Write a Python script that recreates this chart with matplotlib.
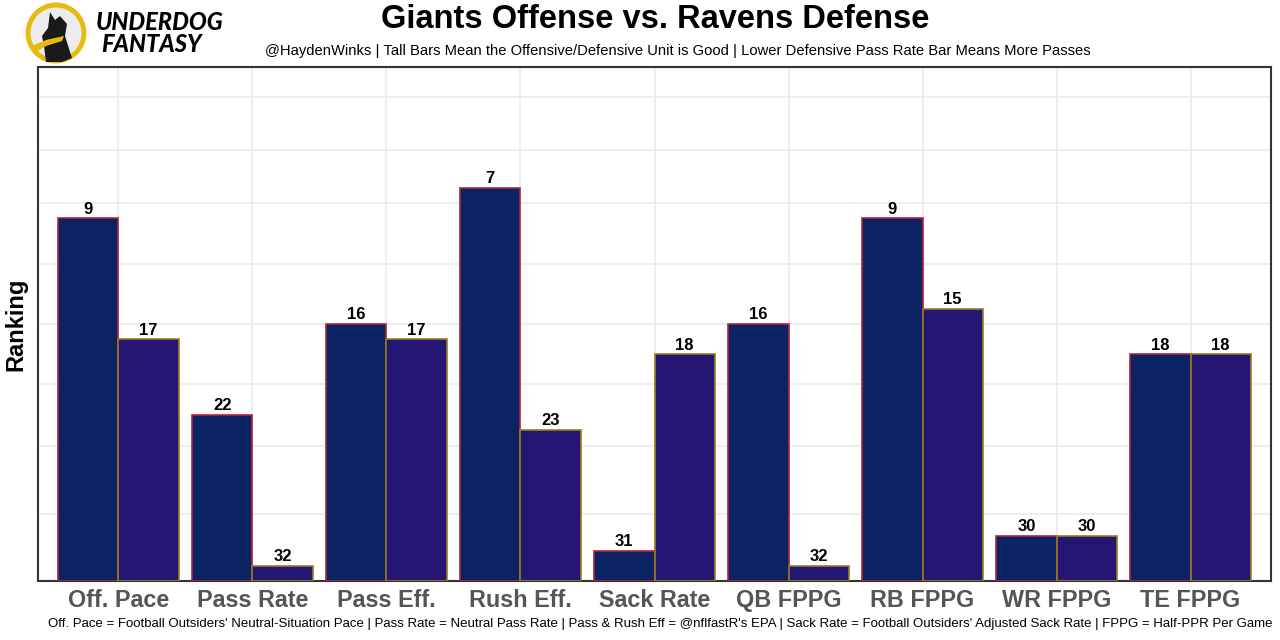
import numpy as np
import matplotlib.pyplot as plt
from matplotlib.patches import Circle, Polygon

plt.rcParams['font.family'] = ['Liberation Sans', 'DejaVu Sans']

categories = ['Off. Pace', 'Pass Rate', 'Pass Eff.', 'Rush Eff.', 'Sack Rate',
              'QB FPPG', 'RB FPPG', 'WR FPPG', 'TE FPPG']
offense_rank = [9, 22, 16, 7, 31, 16, 9, 30, 18]
defense_rank = [17, 32, 17, 23, 18, 32, 15, 30, 18]
n_teams = 32

off_fill, off_edge = '#0b2263', '#b0243a'
def_fill, def_edge = '#241773', '#9a7d1c'

fig = plt.figure(figsize=(12.8, 6.4), dpi=100)
ax = fig.add_axes([38/1280, 1 - 581/640, (1271-38)/1280, (581-67)/640])

x = np.arange(len(categories))
w = 0.45
off_h = [n_teams + 1 - r for r in offense_rank]
def_h = [n_teams + 1 - r for r in defense_rank]
b1 = ax.bar(x - w/2, off_h, w, color=off_fill, edgecolor=off_edge, linewidth=1.2, zorder=3)
b2 = ax.bar(x + w/2, def_h, w, color=def_fill, edgecolor=def_edge, linewidth=1.2, zorder=3)

for bars, ranks in ((b1, offense_rank), (b2, defense_rank)):
    for b, r in zip(bars, ranks):
        ax.text(b.get_x() + b.get_width()/2, b.get_height() + 0.1, str(r),
                ha='center', va='bottom', fontsize=12, fontweight='bold', zorder=4)

ax.set_xlim(-0.6, len(categories) - 0.4)
ax.set_ylim(0, 34)
ax.set_xticks(x)
ax.set_xticklabels(categories, fontsize=16.8, fontweight='bold', color='#555555')
ax.tick_params(axis='x', length=0, pad=6)
ax.set_yticks([4.4, 8.9, 13, 17, 21, 25, 28.5, 32])
ax.set_yticklabels([])
ax.tick_params(axis='y', length=0)
ax.grid(True, color='#ebebeb', linewidth=1.2, zorder=0)
ax.set_axisbelow(True)
for s in ax.spines.values():
    s.set_color('#333333')
    s.set_linewidth(1.5)
ax.set_ylabel('Ranking', fontsize=17, fontweight='bold', labelpad=4)

fig.text(655/1280, 1 - 20/640, 'Giants Offense vs. Ravens Defense', ha='center', va='center',
         fontsize=23.5, fontweight='bold')
fig.text(678/1280, 1 - 51/640,
         '@HaydenWinks | Tall Bars Mean the Offensive/Defensive Unit is Good | '
         'Lower Defensive Pass Rate Bar Means More Passes',
         ha='center', va='center', fontsize=10.6)
fig.text(1272/1280, 1 - 624/640,
         "Off. Pace = Football Outsiders' Neutral-Situation Pace | Pass Rate = Neutral Pass Rate | "
         "Pass & Rush Eff = @nflfastR's EPA | Sack Rate = Football Outsiders' Adjusted Sack Rate | "
         "FPPG = Half-PPR Per Game",
         ha='right', va='center', fontsize=9.58)

# logo
lax = fig.add_axes([20/1280, 1 - 66/640, 72/1280, 66/640])
lax.set_xlim(20, 92)
lax.set_ylim(66, 0)
lax.set_aspect('equal')
lax.axis('off')
lax.add_patch(Circle((56, 33), 28, facecolor='#ececec', edgecolor='#e8b90f', linewidth=3.5))
dog = [(50, 12), (55, 20), (60, 16), (67, 24), (65, 36), (72, 58), (62, 62),
       (46, 62), (44, 46), (42, 36), (48, 28)]
lax.add_patch(Polygon(dog, closed=True, facecolor='#1a1a1a', edgecolor='none'))
lax.add_patch(Polygon([(32, 46), (46, 40), (64, 36), (62, 41), (46, 46), (36, 52)],
                      closed=True, facecolor='#e8b90f', edgecolor='none'))
fig.text(160/1280, 1 - 22/640, 'UNDERDOG', ha='center', va='center', fontsize=17,
         fontweight='black', style='italic', family=['Lato', 'DejaVu Sans'])
fig.text(152/1280, 1 - 44/640, 'FANTASY', ha='center', va='center', fontsize=17,
         fontweight='black', style='italic', family=['Lato', 'DejaVu Sans'])

fig.savefig('out.png', dpi=100)
